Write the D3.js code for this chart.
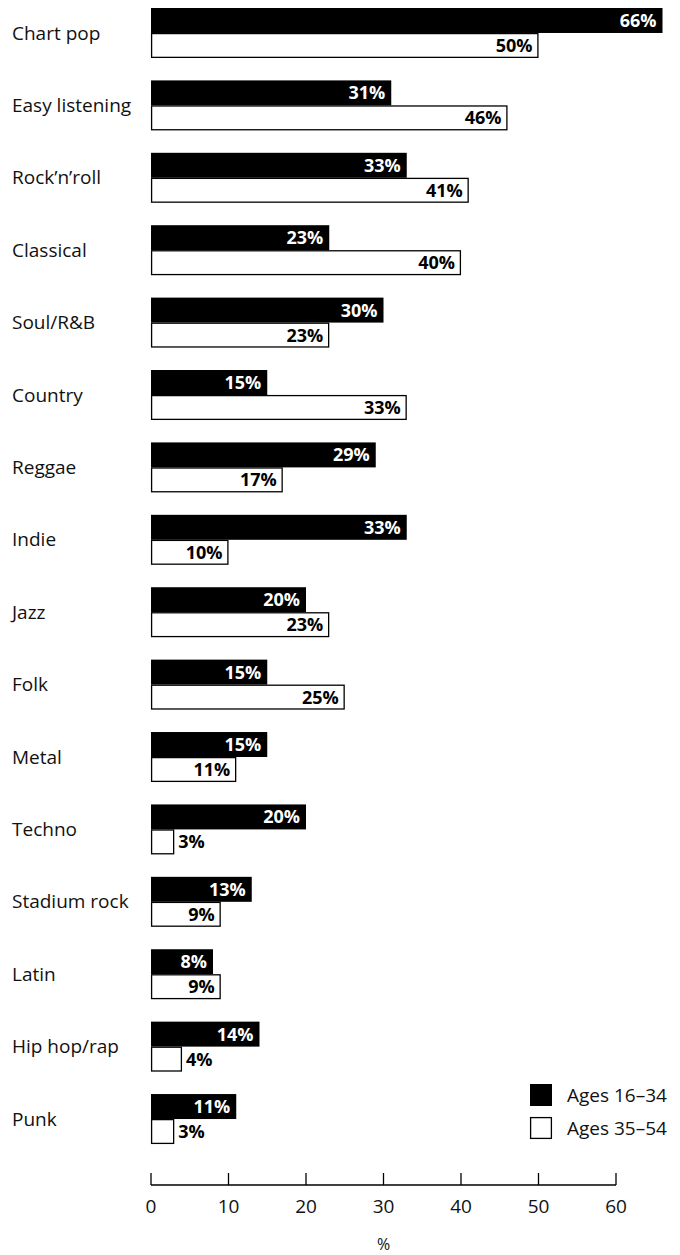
<!DOCTYPE html>
<html>
<head>
<meta charset="utf-8">
<script src="https://cdn.jsdelivr.net/npm/d3@7"></script>
<style>
  body { margin: 0; background: #fff; }
  svg { display: block; font-family: "Open Sans", "Noto Sans", sans-serif; }
</style>
</head>
<body>
<svg id="chart" width="680" height="1255"></svg>
<script>
// Music genres liked, by age group (%)
const genres = ["Chart pop", "Easy listening", "Rock\u2019n\u2019roll", "Classical", "Soul/R&B",
  "Country", "Reggae", "Indie", "Jazz", "Folk", "Metal", "Techno", "Stadium rock",
  "Latin", "Hip hop/rap", "Punk"];
const young = [66, 31, 33, 23, 30, 15, 29, 33, 20, 15, 15, 20, 13, 8, 14, 11];
const older = [50, 46, 41, 40, 23, 33, 17, 10, 23, 25, 11, 3, 9, 9, 4, 3];
const xTicks = [0, 10, 20, 30, 40, 50, 60];
const seriesNames = ["Ages 16\u201334", "Ages 35\u201354"];

const svg = d3.select("#chart");
const x = d3.scaleLinear().domain([0, 60]).range([151, 616]);
const y = d3.scaleBand().domain(genres).range([8, 1144]).paddingInner(0.31).paddingOuter(0);
const barH = y.bandwidth() / 2;

const rows = svg.selectAll("g.row").data(genres).join("g")
  .attr("class", "row")
  .attr("transform", d => `translate(0,${y(d)})`);

// Category labels
rows.append("text")
  .attr("x", 12)
  .attr("y", barH)
  .attr("dy", "0.35em")
  .attr("font-size", 19)
  .attr("fill", "#111")
  .text(d => d);

// Ages 16–34: solid black bars
rows.append("rect")
  .attr("x", x(0))
  .attr("y", 0)
  .attr("width", (d, i) => x(young[i]) - x(0))
  .attr("height", barH)
  .attr("fill", "#000");

// Ages 35–54: outlined white bars
rows.append("rect")
  .attr("x", x(0) + 0.6)
  .attr("y", barH + 0.6)
  .attr("width", (d, i) => x(older[i]) - x(0) - 1.2)
  .attr("height", barH - 1.2)
  .attr("fill", "#fff")
  .attr("stroke", "#000")
  .attr("stroke-width", 1.3);

// Value labels
rows.append("text")
  .attr("x", (d, i) => x(young[i]) - 6)
  .attr("y", barH / 2)
  .attr("dy", "0.36em")
  .attr("text-anchor", "end")
  .attr("font-size", 18)
  .attr("font-weight", "bold")
  .attr("fill", "#fff")
  .text((d, i) => young[i] + "%");

rows.append("text")
  .attr("x", (d, i) => older[i] >= 8 ? x(older[i]) - 6 : x(older[i]) + 4)
  .attr("y", barH * 1.5)
  .attr("dy", "0.36em")
  .attr("text-anchor", (d, i) => older[i] >= 8 ? "end" : "start")
  .attr("font-size", 18)
  .attr("font-weight", "bold")
  .attr("fill", "#000")
  .text((d, i) => older[i] + "%");

// X axis with upward ticks
const axisY = 1185;
const axis = svg.append("g");
axis.append("line")
  .attr("x1", x(0)).attr("x2", x(60))
  .attr("y1", axisY).attr("y2", axisY)
  .attr("stroke", "#000").attr("stroke-width", 1.3);
axis.selectAll("line.tick").data(xTicks).join("line")
  .attr("class", "tick")
  .attr("x1", d => x(d)).attr("x2", d => x(d))
  .attr("y1", axisY).attr("y2", axisY - 12)
  .attr("stroke", "#000").attr("stroke-width", 1.3);
axis.selectAll("text.tick").data(xTicks).join("text")
  .attr("class", "tick")
  .attr("x", d => x(d))
  .attr("y", 1213)
  .attr("text-anchor", "middle")
  .attr("font-size", 19)
  .attr("fill", "#111")
  .text(d => d);
svg.append("text")
  .attr("x", x(30))
  .attr("y", 1250)
  .attr("text-anchor", "middle")
  .attr("font-size", 16)
  .attr("fill", "#111")
  .text("%");

// Legend
const legend = svg.append("g").attr("transform", "translate(530,1084)");
const lg = legend.selectAll("g").data(seriesNames).join("g")
  .attr("transform", (d, i) => `translate(0,${i * 33})`);
lg.append("rect")
  .attr("x", (d, i) => i ? 0.6 : 0)
  .attr("y", (d, i) => i ? 0.6 : 0)
  .attr("width", (d, i) => i ? 20.8 : 22)
  .attr("height", (d, i) => i ? 20.8 : 22)
  .attr("fill", (d, i) => i ? "#fff" : "#000")
  .attr("stroke", "#000")
  .attr("stroke-width", (d, i) => i ? 1.3 : 0);
lg.append("text")
  .attr("x", 37)
  .attr("y", 11)
  .attr("dy", "0.35em")
  .attr("font-size", 19)
  .attr("fill", "#111")
  .text(d => d);
</script>
</body>
</html>
